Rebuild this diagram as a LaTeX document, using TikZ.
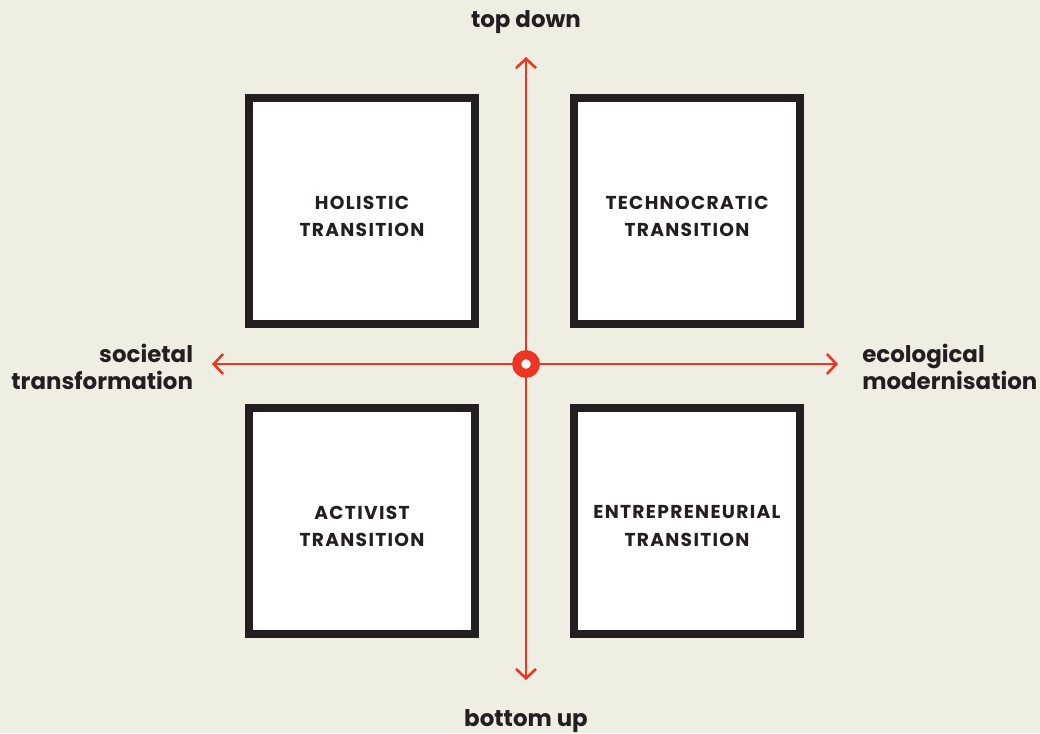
\documentclass[tikz,border=0pt]{standalone}
\usepackage{fontspec}
\setmainfont{Poppins}
\newfontfamily\capsfont{Poppins}[LetterSpace=7]
\usepackage{tikz}
\usetikzlibrary{arrows.meta,positioning}
\definecolor{paper}{RGB}{239,238,227}
\definecolor{axisred}{RGB}{238,53,36}
\definecolor{ink}{RGB}{35,31,32}

\begin{document}
\begin{tikzpicture}[x=0.75pt, y=-0.75pt, node distance=6pt]
    \tikzstyle{quadrant}=[draw=ink, fill=white, line width=6pt, minimum size=169.5pt]
    \tikzstyle{caption}=[align=center, font=\capsfont\bfseries\fontsize{14}{20.3}\selectfont, text=ink]
    \tikzstyle{axis}=[draw=axisred, line width=1.9pt, -{Straight Barb[length=7pt, width=15pt, line width=1.9pt]}]
    \tikzstyle{pole}=[font=\bfseries\fontsize{17.2}{20.3}\selectfont, text=ink, inner sep=0pt]
    \fill[paper] (0,0) rectangle (1040,733);
    % four quadrants
    \node[quadrant] (holistic) at (362,211) {};
    \node[quadrant] (techno) at (687,211) {};
    \node[quadrant] (activist) at (362,521) {};
    \node[quadrant] (entre) at (687,521) {};
    \node[caption, below=3.75pt of holistic.center, anchor=center] (holistictext) {HOLISTIC\\TRANSITION};
    \node[caption, below=3.75pt of techno.center, anchor=center] (technotext) {TECHNOCRATIC\\TRANSITION};
    \node[caption, below=3.75pt of activist.center, anchor=center] (activisttext) {ACTIVIST\\TRANSITION};
    \node[caption, below=3.75pt of entre.center, anchor=center] (entretext) {ENTREPRENEURIAL\\TRANSITION};
    % axes from the origin
    \node[circle, draw=axisred, fill=white, line width=6.8pt, minimum size=14pt, inner sep=0pt] (origin) at (526,364) {};
    \coordinate (up) at (526,57);
    \coordinate (down) at (526,680);
    \coordinate (left) at (212,364);
    \coordinate (right) at (838,364);
    \draw[axis] (origin) -- (up);
    \draw[axis] (origin) -- (down);
    \draw[axis] (origin) -- (left);
    \draw[axis] (origin) -- (right);
    \node[pole, above=17pt of up] (topdown) {top down};
    \node[pole, below=22pt of down] (bottomup) {bottom up};
    \node[pole, left=14pt of left, yshift=-2.2pt, align=right] (societal) {societal\\transformation};
    \node[pole, right=18pt of right, yshift=-2.2pt, align=left] (ecological) {ecological\\modernisation};
  \end{tikzpicture}
\end{document}
